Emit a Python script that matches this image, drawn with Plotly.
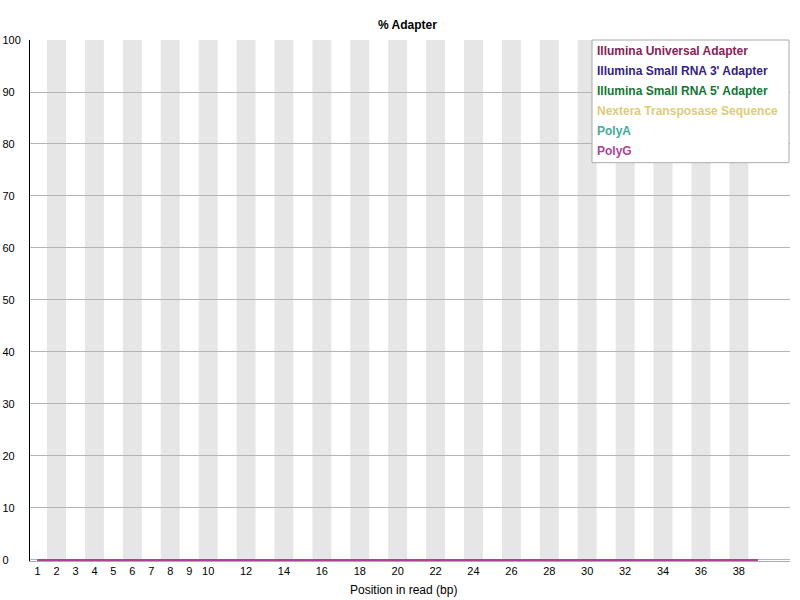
import plotly.graph_objects as go

positions = list(range(1, 40))
tick_vals = [1, 2, 3, 4, 5, 6, 7, 8, 9, 10, 12, 14, 16, 18, 20, 22, 24, 26, 28, 30, 32, 34, 36, 38]
y_ticks = [0, 10, 20, 30, 40, 50, 60, 70, 80, 90, 100]

illumina_universal = [0.0, 0.0, 0.0, 0.0, 0.0, 0.0, 0.0, 0.0, 0.0, 0.0, 0.0, 0.0, 0.0, 0.0, 0.0, 0.0, 0.0, 0.0, 0.0, 0.0, 0.0, 0.0, 0.0, 0.0, 0.0, 0.0, 0.0, 0.0, 0.0, 0.0, 0.0, 0.0, 0.0, 0.0, 0.0, 0.0, 0.0, 0.0, 0.0]
small_rna_3 = [0.0, 0.0, 0.0, 0.0, 0.0, 0.0, 0.0, 0.0, 0.0, 0.0, 0.0, 0.0, 0.0, 0.0, 0.0, 0.0, 0.0, 0.0, 0.0, 0.0, 0.0, 0.0, 0.0, 0.0, 0.0, 0.0, 0.0, 0.0, 0.0, 0.0, 0.0, 0.0, 0.0, 0.0, 0.0, 0.0, 0.0, 0.0, 0.0]
small_rna_5 = [0.0, 0.0, 0.0, 0.0, 0.0, 0.0, 0.0, 0.0, 0.0, 0.0, 0.0, 0.0, 0.0, 0.0, 0.0, 0.0, 0.0, 0.0, 0.0, 0.0, 0.0, 0.0, 0.0, 0.0, 0.0, 0.0, 0.0, 0.0, 0.0, 0.0, 0.0, 0.0, 0.0, 0.0, 0.0, 0.0, 0.0, 0.0, 0.0]
nextera = [0.0, 0.0, 0.0, 0.0, 0.0, 0.0, 0.0, 0.0, 0.0, 0.0, 0.0, 0.0, 0.0, 0.0, 0.0, 0.0, 0.0, 0.0, 0.0, 0.0, 0.0, 0.0, 0.0, 0.0, 0.0, 0.0, 0.0, 0.0, 0.0, 0.0, 0.0, 0.0, 0.0, 0.0, 0.0, 0.0, 0.0, 0.0, 0.0]
poly_a = [0.0, 0.0, 0.0, 0.0, 0.0, 0.0, 0.0, 0.0, 0.0, 0.0, 0.0, 0.0, 0.0, 0.0, 0.0, 0.0, 0.0, 0.0, 0.0, 0.0, 0.0, 0.0, 0.0, 0.0, 0.0, 0.0, 0.0, 0.0, 0.0, 0.0, 0.0, 0.0, 0.0, 0.0, 0.0, 0.0, 0.0, 0.0, 0.0]
poly_g = [0.0, 0.0, 0.0, 0.0, 0.0, 0.0, 0.0, 0.0, 0.0, 0.0, 0.0, 0.0, 0.0, 0.0, 0.0, 0.0, 0.0, 0.0, 0.0, 0.0, 0.0, 0.0, 0.0, 0.0, 0.0, 0.0, 0.0, 0.0, 0.0, 0.0, 0.0, 0.0, 0.0, 0.0, 0.0, 0.0, 0.0, 0.0, 0.0]

series_names = ["Illumina Universal Adapter", "Illumina Small RNA 3' Adapter",
                "Illumina Small RNA 5' Adapter", "Nextera Transposase Sequence",
                "PolyA", "PolyG"]
series_values = [illumina_universal, small_rna_3, small_rna_5, nextera, poly_a, poly_g]
colors = ["#882255", "#332288", "#117733", "#DDCC77", "#44AA99", "#AA4499"]

FONT = "Liberation Sans, Arial, sans-serif"

fig = go.Figure()
for name, vals, col in zip(series_names, series_values, colors):
    fig.add_trace(go.Scatter(x=positions, y=vals, mode="lines", name=name,
                             line=dict(color=col, width=2), showlegend=False))

# alternating grey bands
shapes = []
for p in range(2, 40, 2):
    shapes.append(dict(type="rect", xref="x", yref="paper", x0=p - 0.5, x1=p + 0.5,
                       y0=0, y1=1, fillcolor="#e6e6e6", line=dict(width=0), layer="below"))
# legend box
shapes.append(dict(type="rect", xref="paper", yref="paper", x0=0.7395, x1=0.9987,
                   y0=0.7645, y1=1.0, fillcolor="white", line=dict(color="#aaaaaa", width=1),
                   layer="above"))

annotations = []
for i, (name, col) in enumerate(zip(series_names, colors)):
    annotations.append(dict(xref="paper", yref="paper", x=0.7434, y=1 - (11 + 20 * i) / 521,
                            xanchor="left", yanchor="middle", showarrow=False,
                            text="<b>" + name + "</b>", font=dict(family=FONT, size=12, color=col)))
# title (centred on plot area) and x-axis title (centred on page)
annotations.append(dict(xref="paper", yref="paper", x=0.5 - 3 / 760, y=1 + 15 / 521,
                        xanchor="center", yanchor="middle", showarrow=False,
                        text="<b>% Adapter</b>", font=dict(family=FONT, size=12, color="black")))
annotations.append(dict(xref="paper", yref="paper", x=(403 - 30) / 760, y=-29 / 521,
                        xanchor="center", yanchor="middle", showarrow=False,
                        text="Position in read (bp)", font=dict(family=FONT, size=12, color="black")))

def pad(v):
    s = str(v)
    return s + "\u00a0" * (2 * (3 - len(s)))

fig.update_layout(
    width=800, height=600,
    margin=dict(l=30, r=10, t=40, b=39, autoexpand=False),
    paper_bgcolor="white", plot_bgcolor="white",
    font=dict(family=FONT, size=11, color="black"),
    shapes=shapes, annotations=annotations,
    xaxis=dict(range=[0.6, 40.7], tickmode="array", tickvals=tick_vals, automargin=False,
               ticktext=[str(t) for t in tick_vals], showgrid=False, zeroline=False,
               showline=True, linecolor="#aaaaaa", linewidth=1, ticks="",
               ticklabelstandoff=0, tickfont=dict(size=11)),
    yaxis=dict(range=[-0.2, 100], tickmode="array", tickvals=y_ticks, automargin=False,
               ticktext=[pad(v) for v in y_ticks], showgrid=True, gridcolor="#b4b4b4",
               gridwidth=1, zeroline=False, showline=True, linecolor="black", linewidth=1,
               ticks="", ticklabelstandoff=6, tickfont=dict(size=11)),
)

fig.write_html("out.html", config={"displayModeBar": False},
               post_script="document.body.style.margin='0px';document.body.style.overflow='hidden';")
